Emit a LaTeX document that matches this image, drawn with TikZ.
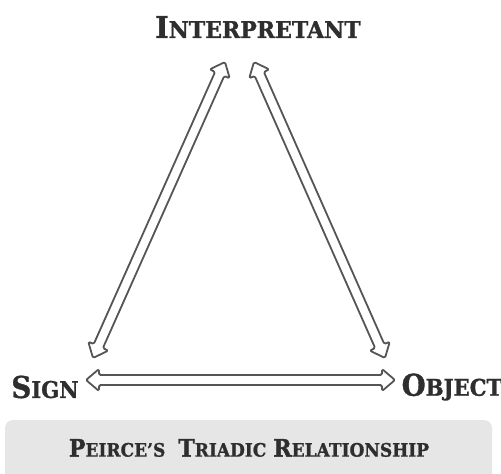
\documentclass[tikz,border=0pt]{standalone}
\usepackage{fontspec}
\setmainfont{DejaVu Serif}[FakeStretch=0.92,BoldFeatures={FakeBold=1.2}]
\usetikzlibrary{calc}
\newcommand\scA[2]{{\fontsize{30}{30}\selectfont #1}{\fontsize{23}{23}\selectfont #2}}
\newcommand\scB[2]{{\fontsize{24}{24}\selectfont #1}{\fontsize{18.5}{18.5}\selectfont #2}}
\definecolor{txt}{HTML}{2E2E2E}
\definecolor{arr}{HTML}{555555}
\definecolor{boxc}{HTML}{E6E6E6}
\tikzset{
  lbl/.style={text=txt,font=\bfseries,inner sep=0pt},
  darrow/.style={draw=arr,line width=1.8pt,fill=white,rounded corners=1.5pt,line join=round},
}
% hollow double-headed arrow between two coordinates
\newcommand\dblarrow[2]{%
  \draw[darrow]
    (#1)
    -- ($ ($(#1)!13pt!(#2)$)!11pt!90:(#2) $)
    -- ($ ($(#1)!13pt!(#2)$)!5pt!90:(#2) $)
    -- ($ ($(#2)!13pt!(#1)$)!5pt!-90:(#1) $)
    -- ($ ($(#2)!13pt!(#1)$)!11pt!-90:(#1) $)
    -- (#2)
    -- ($ ($(#2)!13pt!(#1)$)!11pt!90:(#1) $)
    -- ($ ($(#2)!13pt!(#1)$)!5pt!90:(#1) $)
    -- ($ ($(#1)!13pt!(#2)$)!5pt!-90:(#2) $)
    -- ($ ($(#1)!13pt!(#2)$)!11pt!-90:(#2) $)
    -- cycle;}
\begin{document}
\begin{tikzpicture}[x=1pt,y=-1pt]
\useasboundingbox (0,0) rectangle (501,474);
\fill[boxc,rounded corners=8pt] (5,420) rectangle (492,490);
\node[lbl] (cap) at (249,448) {\scB{P}{EIRCE'S}\hspace{13pt}\scB{T}{RIADIC}\hspace{7pt}\scB{R}{ELATIONSHIP}};
\node[lbl,xscale=1.04] (int) at (258,27) {\scA{I}{NTERPRETANT}};
\node[lbl] (sign) at (45,387) {\scA{S}{IGN}};
\node[lbl] (obj) at (452,387) {\scA{O}{BJECT}};
\coordinate (lt) at (225,62);
\coordinate (lb) at (93,358);
\coordinate (rt) at (254,62);
\coordinate (rb) at (385,358);
\coordinate (hl) at (86,380);
\coordinate (hr) at (395,380);
\dblarrow{lb}{lt}
\dblarrow{rb}{rt}
\dblarrow{hl}{hr}
\end{tikzpicture}
\end{document}
